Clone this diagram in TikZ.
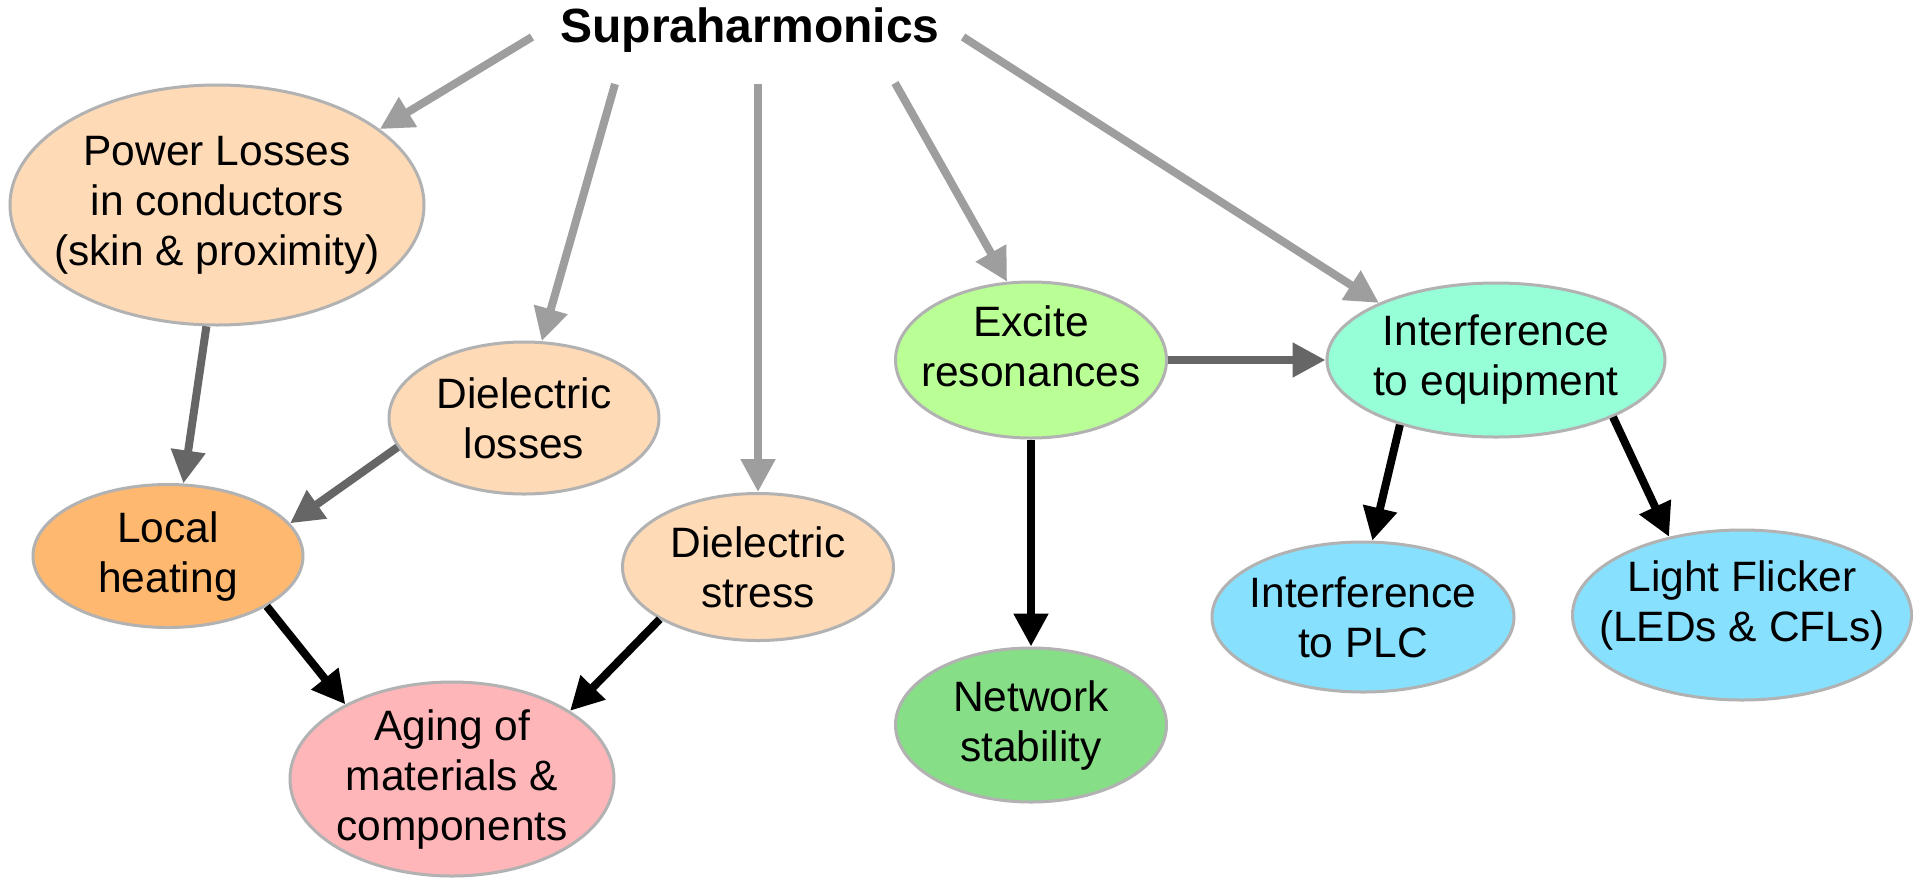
\documentclass[tikz,border=0pt]{standalone}
\usepackage{fontspec}
\setmainfont{Liberation Sans}
\usetikzlibrary{shapes.geometric,arrows.meta}
\definecolor{peach}{RGB}{255,218,182}
\definecolor{orangeh}{RGB}{255,184,112}
\definecolor{pinka}{RGB}{255,182,185}
\definecolor{lgreen}{RGB}{185,255,149}
\definecolor{aqua}{RGB}{150,255,216}
\definecolor{dgreen}{RGB}{134,222,134}
\definecolor{lblue}{RGB}{136,224,255}
\definecolor{edgegray}{RGB}{178,178,178}
\definecolor{lightarrow}{RGB}{158,158,158}
\definecolor{darkarrow}{RGB}{102,102,102}
\tikzset{
  ell/.style={ellipse, draw=edgegray, line width=3pt, inner sep=-60pt, align=center,
    font=\fontsize{42.5}{50}\selectfont},
  arr/.style={line width=8pt, -{Triangle[length=33pt,width=33pt]}},
  supa/.style={arr, draw=lightarrow, fill=lightarrow},
  mida/.style={arr, draw=darkarrow, fill=darkarrow},
  blka/.style={arr, draw=black, fill=black},
}
\begin{document}
\begin{tikzpicture}[x=1pt,y=-1pt]
\useasboundingbox (0,0) rectangle (1921,879);
\fill[white] (0,0) rectangle (1921,879);

\node (sup) at (750,30) {\fontsize{48}{56}\selectfont\bfseries Supraharmonics};

\node[ell, fill=peach, minimum width=414pt, minimum height=240pt] (pl) at (217,205)
  {Power Losses\\in conductors\\(skin \& proximity)};
\node[ell, fill=peach, minimum width=270pt, minimum height=152pt] (dl) at (524,418)
  {Dielectric\\losses};
\node[ell, fill=orangeh, minimum width=270pt, minimum height=143pt] (lh) at (168,556)
  {Local\\heating};
\node[ell, fill=peach, minimum width=271pt, minimum height=147pt] (ds) at (758,567)
  {Dielectric\\stress};
\node[ell, fill=pinka, minimum width=324pt, minimum height=194pt] (ag) at (452,779)
  {Aging of\\materials \&\\components};
\node[ell, fill=lgreen, minimum width=271pt, minimum height=156pt, text depth=27pt] (ex) at (1031,360)
  {Excite\\resonances};
\node[ell, fill=aqua, minimum width=338pt, minimum height=154pt] (ie) at (1496,360)
  {Interference\\to equipment};
\node[ell, fill=dgreen, minimum width=271pt, minimum height=154pt] (ns) at (1031,725)
  {Network\\stability};
\node[ell, fill=lblue, minimum width=302pt, minimum height=150pt] (plc) at (1363,617)
  {Interference\\to PLC};
\node[ell, fill=lblue, minimum width=339pt, minimum height=170pt, text depth=27pt] (fl) at (1742,615)
  {Light Flicker\\(LEDs \& CFLs)};

\coordinate (s1) at (532,37);
\coordinate (s2) at (615,84);
\coordinate (s3) at (758,84);
\coordinate (s4) at (895,83);
\coordinate (s5) at (963,37);

\draw[supa] (s1) -- (pl.25);
\draw[supa] (s2) -- (dl.77);
\draw[supa] (s3) -- (ds.north);
\draw[supa] (s4) -- (ex.107);
\draw[supa] (s5) -- (ie.154);

\draw[mida] (pl.-95) -- (lh.78);
\draw[mida] (dl.193) -- (lh.15);
\draw[mida] (ex) -- (ie);

\draw[blka] (lh.-27) -- (ag.145);
\draw[blka] (ds.208) -- (ag.30);
\draw[blka] (ex) -- (ns);
\draw[blka] (ie.214) -- (plc.83);
\draw[blka] (ie.-26) -- (fl.133);
\end{tikzpicture}
\end{document}
